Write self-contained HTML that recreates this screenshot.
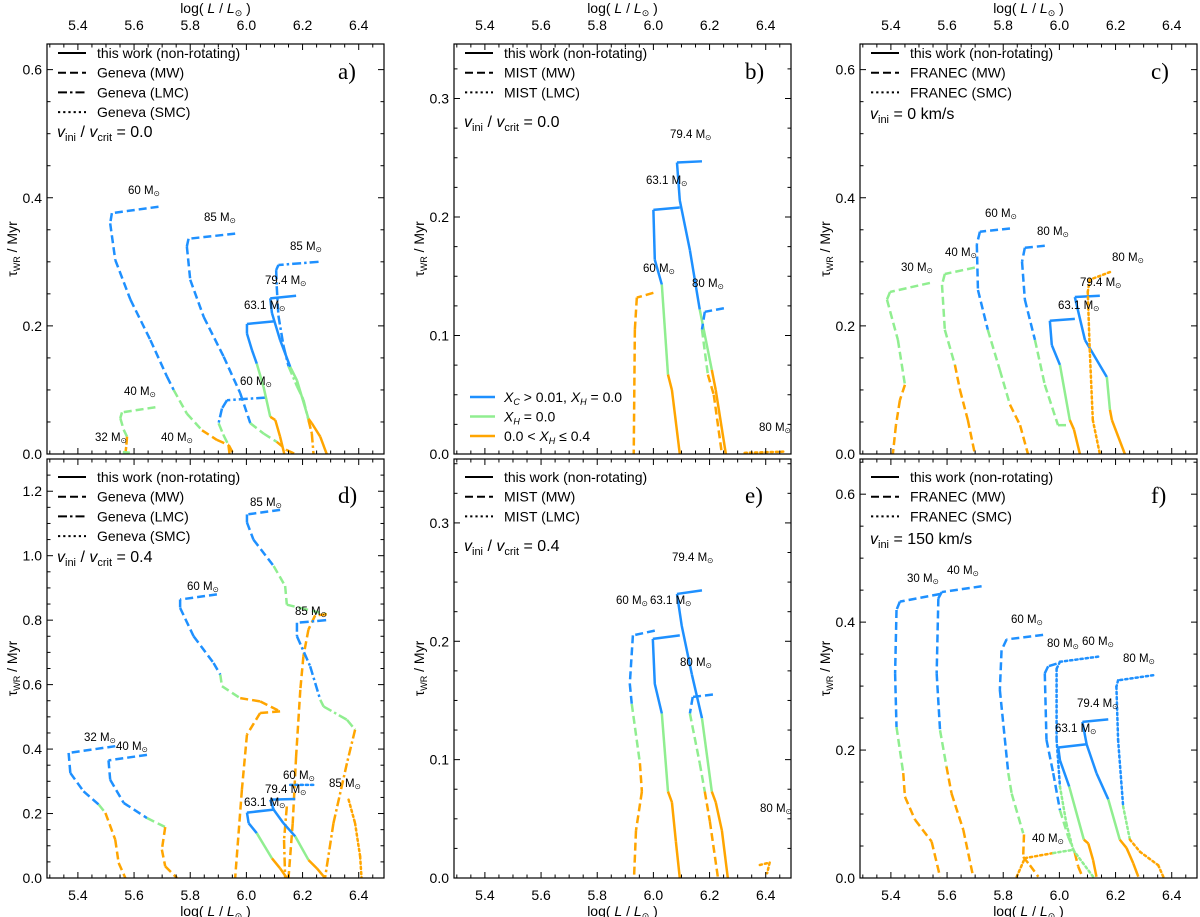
<!DOCTYPE html>
<html><head><meta charset="utf-8"><style>
html,body{margin:0;padding:0;background:#fff;}
svg{display:block;font-family:"Liberation Sans","DejaVu Sans",sans-serif;}
</style></head><body>
<svg id="fig" width="1200" height="917" viewBox="0 0 1200 917"></svg>
<script>
// ---------- data ----------
const xTickLabels=[5.4,5.6,5.8,6.0,6.2,6.4];
// point: [logL, tau, colorOfSegmentEndingHere]
const tracksA=[
 {n:'geneva-mw-60',s:'dash',p:[[5.687,.386,'b'],[5.521,.376,'b'],[5.515,.360,'b'],[5.533,.303,'b'],[5.587,.241,'b'],[5.658,.178,'b'],[5.717,.121,'b'],[5.741,.100,'b'],[5.788,.063,'g'],[5.842,.037,'g'],[5.895,.022,'o'],[5.937,.014,'o'],[5.954,0,'o']]},
 {n:'geneva-mw-85',s:'dash',p:[[5.960,.344,'b'],[5.794,.336,'b'],[5.788,.324,'b'],[5.80,.272,'b'],[5.848,.214,'b'],[5.919,.152,'b'],[5.978,.095,'b'],[6.014,.048,'b'],[6.061,.032,'g'],[6.108,.019,'g'],[6.144,.006,'o'],[6.174,0,'o']]},
 {n:'geneva-lmc-60',s:'dashdot',p:[[6.067,.088,'b'],[5.931,.084,'b'],[5.913,.071,'b'],[5.901,.048,'b'],[5.918,.030,'g'],[5.936,.014,'g'],[5.94,0,'o']]},
 {n:'geneva-lmc-85',s:'dashdot',p:[[6.257,.300,'b'],[6.114,.295,'b'],[6.106,.287,'b'],[6.108,.262,'b'],[6.114,.216,'b'],[6.132,.169,'b'],[6.15,.137,'b'],[6.18,.106,'g'],[6.203,.085,'g'],[6.221,.053,'g'],[6.233,.032,'o'],[6.239,0,'o']]},
 {n:'geneva-mw-40',s:'dash',p:[[5.676,.073,'g'],[5.557,.065,'g'],[5.551,.056,'g'],[5.563,.038,'g'],[5.575,.027,'g'],[5.572,.011,'o'],[5.569,0,'o']]},
 {n:'geneva-mw-32',s:'dash',p:[[5.56,.003,'g'],[5.585,.002,'g']]},
 {n:'this-work-79',s:'solid',p:[[6.177,.247,'b'],[6.085,.243,'b'],[6.091,.220,'b'],[6.12,.178,'b'],[6.156,.136,'b'],[6.18,.115,'g'],[6.221,.055,'g'],[6.233,.048,'o'],[6.263,.027,'o'],[6.286,0,'o']]},
 {n:'this-work-63',s:'solid',p:[[6.097,.207,'b'],[6.002,.203,'b'],[6.002,.188,'b'],[6.02,.162,'b'],[6.037,.141,'b'],[6.061,.105,'g'],[6.085,.058,'g'],[6.103,.053,'o'],[6.12,.027,'o'],[6.135,0,'o']]}
];
const tracksB=[
 {n:'this-work-79',s:'solid',p:[[6.173,.247,'b'],[6.084,.246,'b'],[6.094,.214,'b'],[6.13,.172,'b'],[6.165,.122,'b'],[6.208,.071,'g'],[6.222,.054,'o'],[6.258,0,'o']]},
 {n:'this-work-63',s:'solid',p:[[6.094,.208,'b'],[6.0,.206,'b'],[6.005,.164,'b'],[6.03,.143,'b'],[6.052,.067,'g'],[6.066,.054,'o'],[6.094,0,'o']]},
 {n:'mist-mw-60',s:'dash',p:[[6.0,.136,'o'],[5.941,.132,'o'],[5.934,.105,'o'],[5.93,0,'o']]},
 {n:'mist-mw-80',s:'dash',p:[[6.251,.123,'b'],[6.183,.120,'b'],[6.173,.105,'b'],[6.194,.067,'g'],[6.215,.05,'o'],[6.244,0,'o']]},
 {n:'mist-lmc-80',s:'dot',p:[[6.325,.001,'o'],[6.468,.002,'o']]}
];
const tracksC=[
 {n:'franec-mw-30',s:'dash',p:[[5.539,.267,'g'],[5.397,.253,'g'],[5.386,.241,'g'],[5.425,.178,'g'],[5.45,.108,'g'],[5.432,.084,'o'],[5.418,.045,'o'],[5.407,0,'o']]},
 {n:'franec-mw-40',s:'dash',p:[[5.699,.291,'g'],[5.592,.281,'g'],[5.582,.264,'g'],[5.592,.194,'g'],[5.628,.139,'g'],[5.646,.1,'o'],[5.674,.053,'o'],[5.699,0,'o']]},
 {n:'franec-mw-60',s:'dash',p:[[5.824,.352,'b'],[5.717,.347,'b'],[5.706,.327,'b'],[5.71,.256,'b'],[5.745,.194,'b'],[5.788,.131,'g'],[5.824,.077,'g'],[5.86,.045,'o'],[5.888,0,'o']]},
 {n:'franec-mw-80',s:'dash',p:[[5.948,.325,'b'],[5.877,.322,'b'],[5.867,.30,'b'],[5.877,.241,'b'],[5.913,.178,'b'],[5.948,.108,'g'],[5.995,.045,'g'],[6.037,.045,'g']]},
 {n:'this-work-63',s:'solid',p:[[6.055,.211,'b'],[5.966,.208,'b'],[5.973,.170,'b'],[6.002,.139,'b'],[6.037,.053,'g'],[6.052,.038,'o'],[6.073,0,'o']]},
 {n:'this-work-79',s:'solid',p:[[6.144,.247,'b'],[6.055,.245,'b'],[6.091,.178,'b'],[6.169,.12,'b'],[6.18,.069,'g'],[6.187,.053,'o'],[6.233,0,'o']]},
 {n:'franec-smc-80',s:'dot',p:[[6.18,.284,'o'],[6.108,.272,'o'],[6.101,.253,'o'],[6.108,.163,'o'],[6.119,.053,'o'],[6.144,0,'o']]}
];
const tracksD=[
 {n:'geneva-mw-85',s:'dash',p:[[6.12,1.142,'b'],[6.002,1.128,'b'],[6.002,1.103,'b'],[6.025,1.05,'b'],[6.097,.968,'b'],[6.138,.906,'g'],[6.144,.848,'g'],[6.192,.838,'g'],[6.286,.818,'g'],[6.245,.815,'o'],[6.221,.771,'o'],[6.203,.688,'o'],[6.192,.584,'o'],[6.177,.377,'o'],[6.165,.17,'o'],[6.15,0,'o']]},
 {n:'geneva-mw-60',s:'dash',p:[[5.895,.880,'b'],[5.764,.864,'b'],[5.764,.838,'b'],[5.812,.750,'b'],[5.883,.667,'b'],[5.907,.631,'b'],[5.913,.595,'g'],[5.978,.558,'g'],[6.049,.548,'o'],[6.12,.517,'o'],[6.049,.512,'o'],[6.002,.445,'o'],[5.984,.274,'o'],[5.96,0,'o']]},
 {n:'geneva-mw-32',s:'dash',p:[[5.533,.409,'b'],[5.367,.388,'b'],[5.373,.326,'b'],[5.42,.269,'b'],[5.474,.228,'b'],[5.498,.202,'g'],[5.533,.119,'o'],[5.545,.047,'o'],[5.569,0,'o']]},
 {n:'geneva-mw-40',s:'dash',p:[[5.646,.382,'b'],[5.509,.365,'b'],[5.515,.305,'b'],[5.563,.233,'b'],[5.646,.186,'b'],[5.711,.158,'g'],[5.699,.088,'o'],[5.711,.036,'o'],[5.753,0,'o']]},
 {n:'geneva-lmc-85',s:'dashdot',p:[[6.284,.800,'b'],[6.18,.792,'b'],[6.18,.750,'b'],[6.227,.657,'b'],[6.263,.553,'b'],[6.275,.532,'g'],[6.358,.491,'g'],[6.387,.460,'g'],[6.358,.356,'o'],[6.31,.170,'o'],[6.28,0,'o']]},
 {n:'geneva-lmc-60',s:'dashdot',p:[[6.144,.222,'o'],[6.134,.118,'o'],[6.138,0,'o']]},
 {n:'geneva-smc-60',s:'dot',p:[[6.156,.289,'b'],[6.239,.289,'b']]},
 {n:'geneva-smc-85',s:'dot',p:[[6.364,.243,'o'],[6.387,.170,'o'],[6.405,.067,'o'],[6.41,0,'o']]},
 {n:'this-work-63',s:'solid',p:[[6.097,.212,'b'],[6.002,.203,'b'],[6.008,.170,'b'],[6.037,.139,'b'],[6.091,.061,'g'],[6.12,.030,'o'],[6.144,0,'o']]},
 {n:'this-work-79',s:'solid',p:[[6.174,.245,'b'],[6.085,.243,'b'],[6.097,.212,'b'],[6.132,.170,'b'],[6.174,.129,'b'],[6.221,.056,'g'],[6.251,.030,'o'],[6.28,0,'o']]}
];
const tracksE=[
 {n:'this-work-79',s:'solid',p:[[6.173,.243,'b'],[6.084,.240,'b'],[6.101,.213,'b'],[6.137,.172,'b'],[6.173,.135,'b'],[6.208,.073,'g'],[6.222,.064,'o'],[6.244,.040,'o'],[6.265,0,'o']]},
 {n:'this-work-63',s:'solid',p:[[6.094,.205,'b'],[5.998,.202,'b'],[6.005,.164,'b'],[6.03,.139,'b'],[6.052,.073,'g'],[6.066,.064,'o'],[6.08,.031,'o'],[6.094,0,'o']]},
 {n:'mist-mw-60',s:'dash',p:[[6.005,.209,'b'],[5.927,.205,'b'],[5.916,.164,'b'],[5.923,.147,'b'],[5.952,.097,'g'],[5.959,.073,'o'],[5.938,.040,'o'],[5.931,0,'o']]},
 {n:'mist-mw-80',s:'dash',p:[[6.212,.155,'b'],[6.14,.153,'b'],[6.13,.139,'b'],[6.165,.097,'g'],[6.183,.073,'g'],[6.201,.048,'o'],[6.23,0,'o']]},
 {n:'mist-lmc-80',s:'dot',p:[[6.379,.011,'o'],[6.414,.013,'o'],[6.405,.004,'o']]}
];
const tracksF=[
 {n:'franec-mw-30',s:'dash',p:[[5.575,.444,'b'],[5.432,.432,'b'],[5.42,.419,'b'],[5.415,.32,'b'],[5.42,.236,'b'],[5.444,.164,'g'],[5.45,.127,'o'],[5.486,.091,'o'],[5.545,.057,'o'],[5.575,.002,'o']]},
 {n:'franec-mw-40',s:'dash',p:[[5.723,.456,'b'],[5.581,.447,'b'],[5.569,.437,'b'],[5.563,.32,'b'],[5.575,.231,'b'],[5.598,.174,'g'],[5.616,.132,'o'],[5.658,.075,'o'],[5.693,.002,'o']]},
 {n:'franec-mw-60',s:'dash',p:[[5.942,.380,'b'],[5.812,.373,'b'],[5.794,.356,'b'],[5.788,.294,'b'],[5.818,.164,'b'],[5.83,.132,'g'],[5.871,.070,'g']]},
 {n:'franec-mw-40b',s:'dash',p:[[5.874,.068,'o'],[5.871,.033,'o'],[5.895,.02,'o'],[5.925,.002,'o']]},
 {n:'franec-smc-40',s:'dot',p:[[5.848,.002,'o'],[5.877,.031,'o'],[5.978,.039,'o'],[6.049,.044,'g']]},
 {n:'franec-mw-80',s:'dash',p:[[5.99,.335,'b'],[5.96,.331,'b'],[5.948,.32,'b'],[5.954,.216,'b'],[5.978,.164,'b'],[6.002,.106,'b'],[6.031,.065,'g'],[6.055,.039,'g'],[6.067,.018,'o'],[6.082,.002,'o']]},
 {n:'franec-smc-60',s:'dot',p:[[6.138,.346,'b'],[6.002,.338,'b'],[5.99,.327,'b'],[5.99,.216,'b'],[6.002,.143,'b'],[6.025,.085,'g'],[6.049,.044,'g'],[6.12,.002,'g']]},
 {n:'this-work-63',s:'solid',p:[[6.097,.209,'b'],[5.996,.204,'b'],[6.002,.184,'b'],[6.035,.143,'b'],[6.087,.06,'g'],[6.103,.054,'o'],[6.12,.028,'o'],[6.132,.002,'o']]},
 {n:'this-work-79',s:'solid',p:[[6.174,.248,'b'],[6.082,.244,'b'],[6.097,.209,'b'],[6.132,.164,'b'],[6.174,.123,'b'],[6.215,.06,'g'],[6.239,.047,'o'],[6.263,.023,'o'],[6.281,.002,'o']]},
 {n:'franec-smc-80',s:'dot',p:[[6.334,.317,'b'],[6.209,.309,'b'],[6.203,.299,'b'],[6.209,.216,'b'],[6.227,.112,'b'],[6.251,.06,'g'],[6.287,.041,'o'],[6.352,.02,'o'],[6.37,.002,'o']]}
];
// mass labels in pixel coords [left, centerY, text]
const labelsA=[[128,190,'60'],[204,217,'85'],[290,246,'85'],[265,280,'79.4'],[244,305,'63.1'],[240,381,'60'],[124,391,'40'],[95,437,'32'],[161,437,'40']];
const labelsB=[[670,134,'79.4'],[646,180,'63.1'],[643,268,'60'],[692,283,'80'],[759,427,'80']];
const labelsC=[[985,213,'60'],[1037,231,'80'],[945,252,'40'],[901,267,'30'],[1112,257,'80'],[1080,282,'79.4'],[1058,305,'63.1']];
const labelsD=[[250,502,'85'],[187,586,'60'],[295,611,'85'],[84,737,'32'],[116,746,'40'],[283,775,'60'],[329,783,'85'],[265,789,'79.4'],[244,802,'63.1']];
const labelsE=[[672,557,'79.4'],[650,600,'63.1'],[616,600,'60'],[680,662,'80'],[760,808,'80']];
const labelsF=[[907,578,'30'],[947,570,'40'],[1011,619,'60'],[1047,643,'80'],[1082,641,'60'],[1123,658,'80'],[1077,703,'79.4'],[1055,728,'63.1'],[1032,838,'40']];

// ---------- rendering ----------
const NS='http://www.w3.org/2000/svg';
const svg=document.getElementById('fig');
const COL={b:'#1e90ff',g:'#90ee90',o:'#ffa500'};
const DASH={solid:'',dash:'8 4',dashdot:'9 3 2.5 3',dot:'2.2 3'};
const X0=5.29,X1=6.49;
function el(tag,attrs,parent){const e=document.createElementNS(NS,tag);for(const k in attrs)e.setAttribute(k,attrs[k]);(parent||svg).appendChild(e);return e;}

const panels=[
 {id:'a',L:47,T:44,R:384,B:454,ymax:.64,maj:.2,min:.05,top:true,tracks:tracksA,labels:labelsA,
  leg:[['solid','this work (non-rotating)'],['dash','Geneva (MW)'],['dashdot','Geneva (LMC)'],['dot','Geneva (SMC)']],legY:53,vini:'crit',viniVal:'0.0',viniY:132},
 {id:'b',L:454,T:44,R:791,B:454,ymax:.346,maj:.1,min:.025,top:true,tracks:tracksB,labels:labelsB,
  leg:[['solid','this work (non-rotating)'],['dash','MIST (MW)'],['dot','MIST (LMC)']],legY:53,vini:'crit',viniVal:'0.0',viniY:122,colorLeg:true},
 {id:'c',L:860,T:44,R:1197,B:454,ymax:.64,maj:.2,min:.05,top:true,tracks:tracksC,labels:labelsC,
  leg:[['solid','this work (non-rotating)'],['dash','FRANEC (MW)'],['dot','FRANEC (SMC)']],legY:53,vini:'kms',viniVal:'0',viniY:114},
 {id:'d',L:47,T:459,R:384,B:878,ymax:1.30,maj:.2,min:.05,top:false,tracks:tracksD,labels:labelsD,
  leg:[['solid','this work (non-rotating)'],['dash','Geneva (MW)'],['dashdot','Geneva (LMC)'],['dot','Geneva (SMC)']],legY:477,vini:'crit',viniVal:'0.4',viniY:557},
 {id:'e',L:454,T:459,R:791,B:878,ymax:.354,maj:.1,min:.025,top:false,tracks:tracksE,labels:labelsE,
  leg:[['solid','this work (non-rotating)'],['dash','MIST (MW)'],['dot','MIST (LMC)']],legY:477,vini:'crit',viniVal:'0.4',viniY:546},
 {id:'f',L:860,T:459,R:1197,B:878,ymax:.655,maj:.2,min:.05,top:false,tracks:tracksF,labels:labelsF,
  leg:[['solid','this work (non-rotating)'],['dash','FRANEC (MW)'],['dot','FRANEC (SMC)']],legY:477,vini:'kms',viniVal:'150',viniY:539}
];

panels.forEach(P=>{
  const g=el('g',{});
  
  
  const sx=v=>P.L+(v-X0)/(X1-X0)*(P.R-P.L);
  const sy=v=>P.B-v/P.ymax*(P.B-P.T);
  const clip=el('clipPath',{id:'clip'+P.id},g);
  el('rect',{x:P.L,y:P.T,width:P.R-P.L,height:P.B-P.T},clip);
  const tg=el('g',{'clip-path':'url(#clip'+P.id+')'},g);
  
  
  P.tracks.forEach(t=>{
    const grp=el('g',{},tg);
    
    
    for(let i=0;i<t.p.length-1;i++){
      const a=t.p[i],b=t.p[i+1];
      const ln=el('line',{x1:sx(a[0]),y1:sy(a[1]),x2:sx(b[0]),y2:sy(b[1]),stroke:COL[b[2]],'stroke-width':2.5,'stroke-dasharray':DASH[t.s],'stroke-linecap':t.s==='dot'?'round':'butt'},grp);
      
      
    }
  });
  const fr=el('rect',{x:P.L,y:P.T,width:P.R-P.L,height:P.B-P.T,fill:'none',stroke:'#000','stroke-width':1.2},g);
  
  
  for(let k=0;k<=24;k++){
    const v=5.3+k*0.05; if(v>X1) break;
    const isMaj=xTickLabels.some(t=>Math.abs(t-v)<1e-6);
    const len=isMaj?6:3.5,x=sx(v);
    el('line',{x1:x,y1:P.B,x2:x,y2:P.B-len,stroke:'#000','stroke-width':1},g);
    el('line',{x1:x,y1:P.T,x2:x,y2:P.T+len,stroke:'#000','stroke-width':1},g);
  }
  xTickLabels.forEach(v=>{
    const t=el('text',{x:sx(v),y:P.top?P.T-14:P.B+22,'text-anchor':'middle','font-size':14},g);
    t.textContent=v.toFixed(1);
    
    
  });
  const xl=el('text',{x:(P.L+P.R)/2,y:P.top?P.T-31:P.B+38,'text-anchor':'middle','font-size':14},g);
  xl.innerHTML='log( <tspan font-style="italic">L</tspan> / <tspan font-style="italic">L</tspan><tspan font-size="9" dy="3">⊙</tspan><tspan dy="-3"> )</tspan>';
  
  
  const nmin=Math.floor(P.ymax/P.min+1e-6);
  for(let k=0;k<=nmin;k++){
    const v=k*P.min,isMaj=Math.abs(v/P.maj-Math.round(v/P.maj))<1e-6;
    const len=isMaj?6:3.5,y=sy(v);
    el('line',{x1:P.L,y1:y,x2:P.L+len,y2:y,stroke:'#000','stroke-width':1},g);
    el('line',{x1:P.R,y1:y,x2:P.R-len,y2:y,stroke:'#000','stroke-width':1},g);
    if(isMaj){
      const t=el('text',{x:P.L-5,y:y+5,'text-anchor':'end','font-size':14},g);
      t.textContent=v.toFixed(1);
      
      
    }
  }
  const yl=el('text',{x:0,y:0,'text-anchor':'middle','font-size':14,transform:`translate(${P.L-30},${(P.T+P.B)/2}) rotate(-90)`},g);
  yl.innerHTML='τ<tspan font-size="9" dy="3">WR</tspan><tspan dy="-3"> / Myr</tspan>';
  
  
  P.leg.forEach((l,i)=>{
    const y=P.legY+i*19.7;
    const ln=el('line',{x1:P.L+11,y1:y,x2:P.L+39,y2:y,stroke:'#000','stroke-width':2,'stroke-dasharray':DASH[l[0]]},g);
    
    
    const t=el('text',{x:P.L+50,y:y+5,'font-size':14},g);
    t.textContent=l[1];
    
    
  });
  const vt=el('text',{x:P.L+10,y:P.viniY+5,'font-size':16},g);
  if(P.vini==='crit') vt.innerHTML='<tspan font-style="italic">v</tspan><tspan font-size="11" dy="4">ini</tspan><tspan dy="-4"> / </tspan><tspan font-style="italic">v</tspan><tspan font-size="11" dy="4">crit</tspan><tspan dy="-4"> = '+P.viniVal+'</tspan>';
  else vt.innerHTML='<tspan font-style="italic">v</tspan><tspan font-size="11" dy="4">ini</tspan><tspan dy="-4"> = '+P.viniVal+' km/s</tspan>';
  
  
  const pl=el('text',{x:P.R-46,y:P.legY+26,'font-size':23,'font-family':'Liberation Serif, serif'},g);
  pl.textContent=P.id+')';
  
  
  if(P.colorLeg){
    const items=[['b','<tspan font-style="italic">X</tspan><tspan font-size="9" dy="3" font-style="italic">C</tspan><tspan dy="-3"> &gt; 0.01,  </tspan><tspan font-style="italic">X</tspan><tspan font-size="9" dy="3" font-style="italic">H</tspan><tspan dy="-3"> = 0.0</tspan>'],
                 ['g','<tspan font-style="italic">X</tspan><tspan font-size="9" dy="3" font-style="italic">H</tspan><tspan dy="-3"> = 0.0</tspan>'],
                 ['o','0.0 &lt; <tspan font-style="italic">X</tspan><tspan font-size="9" dy="3" font-style="italic">H</tspan><tspan dy="-3"> ≤ 0.4</tspan>']];
    items.forEach((it,i)=>{
      const y=397+i*19.5;
      const ln=el('line',{x1:P.L+16,y1:y,x2:P.L+41,y2:y,stroke:COL[it[0]],'stroke-width':2.5},g);
      
      
      const t=el('text',{x:P.L+50,y:y+5,'font-size':14},g);
      t.innerHTML=it[1];
      
      
    });
  }
  P.labels.forEach(l=>{
    const t=el('text',{x:l[0],y:l[1]+4,'font-size':11.5},g);
    t.innerHTML=l[2]+' M<tspan font-size="7.5" dy="2">⊙</tspan>';
    
    
  });
});
</script>
</body></html>
